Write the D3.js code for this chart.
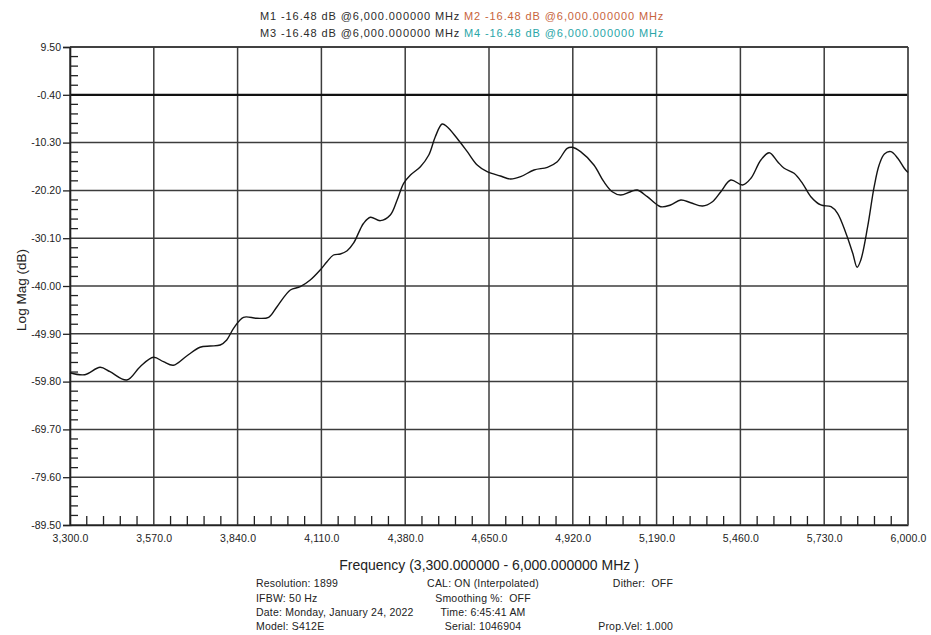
<!DOCTYPE html>
<html>
<head>
<meta charset="utf-8">
<script src="https://cdn.jsdelivr.net/npm/d3@7"></script>
<style>
  html, body { margin: 0; padding: 0; background: #ffffff; }
  svg { display: block; font-family: "Liberation Sans", Arial, sans-serif; }
  text { white-space: pre; }
</style>
</head>
<body>
<svg id="chart" width="931" height="635"></svg>
<script>
// Trace: frequency (MHz) and log magnitude (dB)
const freqMHz = [
  3300, 3348, 3397, 3429, 3483, 3526, 3569, 3601, 3633, 3676,
  3719, 3752, 3784, 3805, 3827, 3859, 3902, 3940, 3967, 4010,
  4042, 4074, 4106, 4128, 4149, 4171, 4193, 4214, 4235, 4246,
  4268, 4300, 4332, 4354, 4375, 4397, 4429, 4456, 4477, 4499,
  4515, 4547, 4580, 4612, 4644, 4687, 4719, 4752, 4795, 4838,
  4870, 4902, 4918, 4945, 4988, 5020, 5047, 5074, 5106, 5128,
  5160, 5203, 5235, 5268, 5300, 5338, 5370, 5397, 5429, 5467,
  5494, 5526, 5553, 5580, 5601, 5633, 5660, 5687, 5719, 5752,
  5773, 5800, 5822, 5836, 5848, 5870, 5891, 5907, 5924, 5945,
  5967, 5988, 6000
];
const logMagDb = [
  -57.96, -58.37, -56.84, -57.75, -59.47, -56.71, -54.77, -55.68, -56.42, -54.50,
  -52.69, -52.43, -52.22, -51.18, -48.76, -46.48, -46.69, -46.48, -44.29, -40.83,
  -40.14, -38.76, -36.69, -34.97, -33.58, -33.37, -32.69, -31.09, -28.26, -27.01,
  -25.77, -26.47, -25.29, -22.19, -18.73, -17.01, -15.29, -12.87, -9.08, -6.45,
  -7.01, -9.41, -12.18, -14.94, -16.33, -17.22, -17.84, -17.36, -15.97, -15.42,
  -14.26, -11.48, -11.27, -12.18, -14.94, -18.40, -20.47, -21.15, -20.47, -20.12,
  -21.50, -23.58, -23.22, -22.19, -22.75, -23.43, -22.54, -20.47, -18.05, -19.08,
  -17.69, -13.90, -12.39, -14.26, -15.62, -16.66, -18.73, -21.50, -23.22, -23.58,
  -24.94, -29.08, -33.23, -36.13, -34.61, -27.72, -19.43, -14.94, -12.66, -12.18,
  -13.55, -15.62, -16.48
];

// Axis divisions
const xTicks = [3300, 3570, 3840, 4110, 4380, 4650, 4920, 5190, 5460, 5730, 6000];
const xTickLabels = ["3,300.0", "3,570.0", "3,840.0", "4,110.0", "4,380.0", "4,650.0",
                     "4,920.0", "5,190.0", "5,460.0", "5,730.0", "6,000.0"];
const yTicks = [9.5, -0.4, -10.3, -20.2, -30.1, -40.0, -49.9, -59.8, -69.7, -79.6, -89.5];
const yTickLabels = ["9.50", "-0.40", "-10.30", "-20.20", "-30.10", "-40.00",
                     "-49.90", "-59.80", "-69.70", "-79.60", "-89.50"];
const referenceLevel = -0.4;

// Marker readouts
const markerNames = ["M1", "M2", "M3", "M4"];
const markerText = [
  "M1 -16.48 dB @6,000.000000 MHz",
  "M2 -16.48 dB @6,000.000000 MHz",
  "M3 -16.48 dB @6,000.000000 MHz",
  "M4 -16.48 dB @6,000.000000 MHz"
];
const markerColors = ["#2b2b2b", "#c8643c", "#2b2b2b", "#2aa6a8"];

// Instrument status lines
const statusLeft = ["Resolution: 1899", "IFBW: 50 Hz", "Date: Monday, January 24, 2022", "Model: S412E"];
const statusMid = ["CAL: ON (Interpolated)", "Smoothing %:  OFF", "Time: 6:45:41 AM", "Serial: 1046904"];
const statusRight = ["Dither:  OFF", "", "", "Prop.Vel: 1.000"];

const xTitle = "Frequency (3,300.000000 - 6,000.000000 MHz )";
const yTitle = "Log Mag (dB)";

// ---- layout ----
const svg = d3.select("#chart");
const L = 70, R = 908, T = 47, B = 525;

const x = d3.scaleLinear().domain([3300, 6000]).range([L, R]);
const y = d3.scaleLinear().domain([-89.5, 9.5]).range([B, T]);

const gridColor = "#3c3c3c";

// minor tick positions (5 subdivisions per division)
const xMinor = [];
for (let i = 0; i < xTicks.length - 1; i++) {
  for (let k = 1; k < 5; k++) xMinor.push(xTicks[i] + (xTicks[i + 1] - xTicks[i]) * k / 5);
}
const yMinor = [];
for (let i = 0; i < yTicks.length - 1; i++) {
  for (let k = 1; k < 5; k++) yMinor.push(yTicks[i] + (yTicks[i + 1] - yTicks[i]) * k / 5);
}

// grid
const grid = svg.append("g");
grid.selectAll("line.v").data(xTicks).join("line")
  .attr("x1", d => x(d)).attr("x2", d => x(d))
  .attr("y1", T).attr("y2", B)
  .attr("stroke", gridColor).attr("stroke-width", 1.5);
grid.selectAll("line.h").data(yTicks.filter(d => d !== referenceLevel)).join("line")
  .attr("x1", L).attr("x2", R)
  .attr("y1", d => y(d)).attr("y2", d => y(d))
  .attr("stroke", gridColor).attr("stroke-width", 1.5);

// minor ticks along left and bottom axes
svg.append("g").selectAll("line").data(yMinor).join("line")
  .attr("x1", L).attr("x2", L + 8)
  .attr("y1", d => y(d)).attr("y2", d => y(d))
  .attr("stroke", "#222").attr("stroke-width", 1.3);
svg.append("g").selectAll("line").data(xMinor).join("line")
  .attr("x1", d => x(d)).attr("x2", d => x(d))
  .attr("y1", B).attr("y2", B - 9)
  .attr("stroke", "#222").attr("stroke-width", 1.3);

// reference line
svg.append("line")
  .attr("x1", L).attr("x2", R)
  .attr("y1", y(referenceLevel)).attr("y2", y(referenceLevel))
  .attr("stroke", "#111").attr("stroke-width", 2.3);

// axes (D3 axis generators for labels and outer ticks)
const yAxis = d3.axisLeft(y).tickValues(yTicks)
  .tickFormat((d, i) => yTickLabels[i]).tickSize(7).tickPadding(2);
const gy = svg.append("g").attr("transform", `translate(${L},0)`).call(yAxis);
gy.select(".domain").attr("stroke", "#222").attr("stroke-width", 1.6);
gy.selectAll(".tick line").attr("stroke", "#222").attr("stroke-width", 1.3);
gy.selectAll(".tick text").attr("fill", "#222").style("font-size", "10.5px")
  .style("font-family", "'Liberation Sans', Arial, sans-serif");

const xAxis = d3.axisBottom(x).tickValues(xTicks)
  .tickFormat((d, i) => xTickLabels[i]).tickSize(0).tickPadding(10);
const gx = svg.append("g").attr("transform", `translate(0,${B})`).call(xAxis);
gx.select(".domain").attr("stroke", "#222").attr("stroke-width", 1.6);
gx.selectAll(".tick text").attr("fill", "#222").style("font-size", "10.5px")
  .style("letter-spacing", "0.15px")
  .style("font-family", "'Liberation Sans', Arial, sans-serif");

// right and top borders
svg.append("line").attr("x1", R).attr("x2", R).attr("y1", T).attr("y2", B)
  .attr("stroke", "#555").attr("stroke-width", 1.5);
svg.append("line").attr("x1", L).attr("x2", R).attr("y1", T).attr("y2", T)
  .attr("stroke", "#333").attr("stroke-width", 1.5);

// trace
const line = d3.line()
  .x((d, i) => x(freqMHz[i]))
  .y(d => y(d))
  .curve(d3.curveCatmullRom.alpha(0.5));
svg.append("path")
  .datum(logMagDb)
  .attr("d", line)
  .attr("fill", "none")
  .attr("stroke", "#141414")
  .attr("stroke-width", 1.4)
  .attr("stroke-linejoin", "round");

// marker readouts
const legendPos = [[260, 20], [464, 20], [260, 36.5], [464, 36.5]];
svg.append("g").selectAll("text").data(markerText).join("text")
  .attr("x", (d, i) => legendPos[i][0])
  .attr("y", (d, i) => legendPos[i][1])
  .attr("fill", (d, i) => markerColors[i])
  .style("font-size", "11px")
  .style("letter-spacing", "0.9px")
  .text(d => d);

// axis titles
svg.append("text")
  .attr("x", (L + R) / 2).attr("y", 570)
  .attr("text-anchor", "middle")
  .attr("fill", "#222")
  .style("font-size", "14px")
  .text(xTitle);
svg.append("text")
  .attr("transform", "translate(25.5,290) rotate(-90)")
  .attr("text-anchor", "middle")
  .attr("fill", "#222")
  .style("font-size", "13.5px")
  .text(yTitle);

// status block
const statusY = [587, 601.5, 615.5, 630];
const status = svg.append("g").attr("fill", "#222")
  .style("font-size", "10.5px").style("letter-spacing", "0.2px");
status.selectAll("text.l").data(statusLeft).join("text")
  .attr("x", 256).attr("y", (d, i) => statusY[i]).text(d => d);
status.selectAll("text.m").data(statusMid).join("text")
  .attr("x", 483).attr("y", (d, i) => statusY[i])
  .attr("text-anchor", "middle").text(d => d);
status.selectAll("text.r").data(statusRight).join("text")
  .attr("x", 673).attr("y", (d, i) => statusY[i])
  .attr("text-anchor", "end").text(d => d);
</script>
</body>
</html>
